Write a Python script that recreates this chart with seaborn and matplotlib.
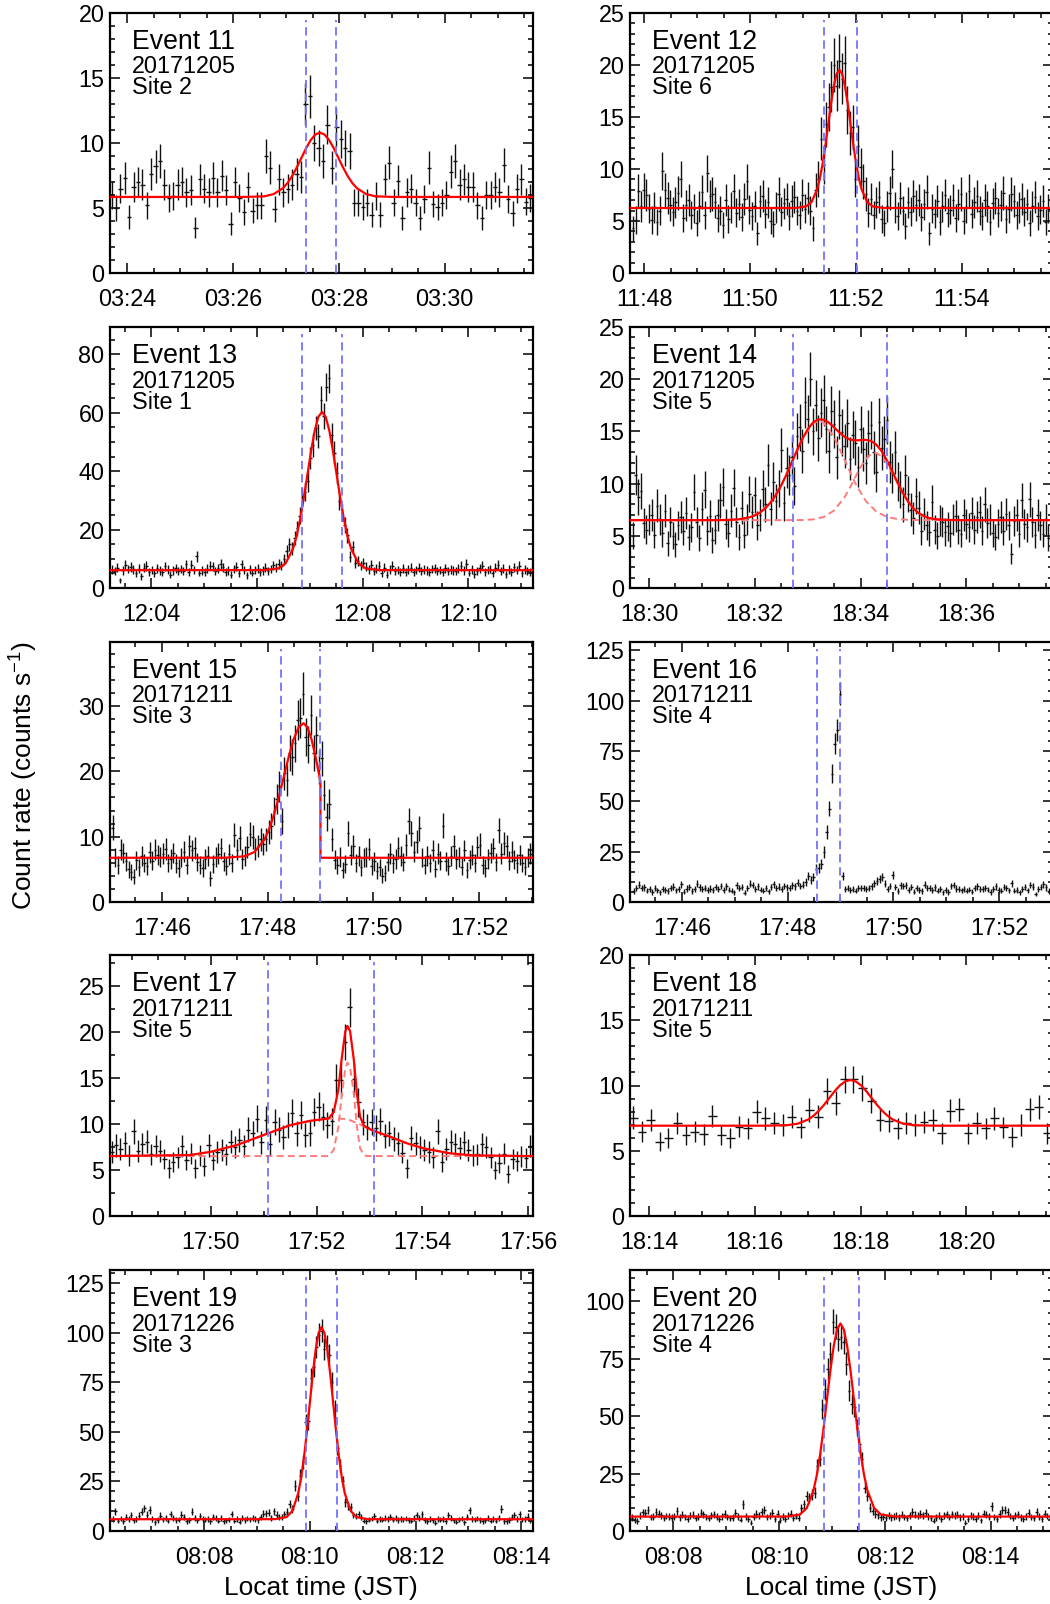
import numpy as np
import matplotlib
matplotlib.use("Agg")
import matplotlib.pyplot as plt
import seaborn as sns
from matplotlib.ticker import MultipleLocator, FuncFormatter

# ---------------- data (times in minutes of day, JST) ----------------
event_names = ["Event 11", "Event 12", "Event 13", "Event 14", "Event 15",
               "Event 16", "Event 17", "Event 18", "Event 19", "Event 20"]
event_dates = ["20171205", "20171205", "20171205", "20171205", "20171211",
               "20171211", "20171211", "20171211", "20171226", "20171226"]
event_sites = ["Site 2", "Site 6", "Site 1", "Site 5", "Site 3",
               "Site 4", "Site 5", "Site 5", "Site 3", "Site 4"]
bin_start = [203.70, 707.79, 723.26, 1109.70, 1065.07,
             1065.09, 1068.12, 1093.70, 486.27, 487.22]
bin_seconds = [5, 3, 3, 3, 3, 3, 5, 10, 3, 3]

rate_e11 = [6.0, 5.0, 6.5, 7.3, 4.3, 6.6, 7.0, 6.8, 5.2, 7.6,
            8.2, 8.6, 6.8, 5.8, 5.9, 6.8, 7.0, 6.2, 6.4, 3.5,
            7.2, 6.5, 6.2, 7.3, 6.2, 7.5, 6.4, 3.8, 7.0, 5.8,
            4.7, 6.6, 4.8, 5.2, 5.2, 9.0, 8.1, 4.9, 7.2, 6.2,
            6.5, 6.8, 7.6, 7.4, 13.0, 13.6, 10.0, 9.6, 8.6, 11.4,
            8.1, 11.2, 10.3, 9.6, 9.4, 5.4, 5.4, 5.1, 5.4, 4.5,
            5.9, 4.5, 7.2, 8.5, 5.4, 7.1, 4.2, 6.2, 6.5, 5.4,
            4.2, 5.7, 8.1, 5.3, 5.1, 5.4, 6.0, 7.8, 8.6, 6.8,
            7.2, 6.6, 6.6, 5.2, 4.2, 6.0, 6.0, 6.6, 6.2, 8.3,
            5.7, 4.6, 6.5, 7.2, 5.5, 5.8]
rate_e12 = [4.3, 5.1, 7.9, 6.4, 8.0, 7.5, 6.2, 5.1, 6.3, 4.9,
            6.0, 9.8, 8.0, 7.2, 6.5, 5.9, 6.8, 7.7, 9.0, 5.3,
            6.5, 7.0, 5.6, 6.2, 4.8, 6.4, 7.8, 5.6, 9.6, 7.4,
            7.6, 6.8, 5.3, 6.0, 4.6, 7.0, 5.2, 6.3, 7.9, 5.8,
            6.6, 5.4, 7.1, 8.8, 6.1, 5.5, 6.4, 3.8, 6.9, 7.4,
            5.7, 6.8, 5.0, 4.7, 6.3, 7.6, 5.9, 6.7, 7.1, 5.5,
            6.9, 7.3, 6.0, 5.6, 7.5, 6.2, 7.2, 6.0, 4.3, 8.0,
            9.0, 12.9, 10.4, 14.3, 16.0, 17.9, 20.0, 18.0, 20.4, 18.7,
            20.2, 15.7, 13.5, 14.0, 9.0, 12.2, 10.2, 8.8, 7.6, 5.8,
            7.1, 5.6, 6.8, 7.3, 5.2, 4.8, 6.4, 7.7, 10.0, 6.3,
            5.5, 7.2, 6.0, 4.5, 6.8, 5.9, 7.4, 6.5, 7.0, 5.4,
            6.6, 7.8, 3.8, 6.2, 5.7, 6.9, 4.9, 6.4, 7.5, 5.8,
            6.1, 7.0, 5.3, 6.6, 7.6, 5.0, 6.3, 7.9, 5.7, 6.8,
            7.4, 6.0, 5.5, 7.0, 6.4, 4.9, 6.7, 7.2, 5.8, 6.5,
            7.7, 5.2, 6.2, 7.6, 6.9, 5.6, 6.3, 7.1, 5.9, 6.6,
            4.8, 6.4, 7.3, 5.5, 6.1, 6.9, 4.9, 6.2, 5.3, 6.0]
rate_e13 = [6.3, 5.8, 7.0, 2.6, 6.0, 7.9, 6.5, 7.2, 6.4, 5.2,
            6.6, 4.0, 6.9, 7.5, 5.6, 6.2, 5.1, 6.8, 6.0, 5.5,
            7.4, 6.3, 4.5, 6.0, 6.7, 5.8, 6.5, 5.9, 8.1, 5.6,
            8.0, 6.2, 10.8, 5.3, 6.0, 5.5, 6.6, 7.7, 7.4, 5.9,
            6.8, 8.3, 7.1, 5.4, 6.0, 4.6, 6.5, 7.3, 5.2, 8.1,
            6.1, 4.4, 6.4, 5.3, 6.2, 6.6, 5.4, 6.0, 6.9, 5.7,
            6.5, 7.8, 6.9, 8.3, 7.6, 9.8, 12.8, 15.0, 13.5, 17.2,
            20.5, 24.8, 31.3, 33.0, 36.5, 44.5, 49.0, 54.8, 52.0, 64.5,
            58.8, 69.0, 71.8, 52.5, 46.3, 39.4, 29.9, 25.8, 21.6, 18.0,
            10.7, 14.0, 8.5, 9.2, 7.8, 8.5, 7.3, 6.4, 7.9, 5.8,
            6.6, 7.5, 5.2, 6.9, 4.6, 6.3, 7.7, 5.9, 6.1, 5.4,
            6.8, 5.6, 6.4, 7.0, 5.5, 6.2, 6.9, 5.7, 6.3, 6.0,
            5.6, 6.5, 6.8, 5.9, 6.1, 5.4, 6.7, 5.8, 6.3, 6.0,
            5.7, 6.6, 7.5, 6.0, 8.2, 5.3, 6.4, 4.8, 5.9, 6.8,
            7.7, 5.6, 6.2, 6.5, 5.1, 6.9, 7.9, 5.7, 6.6, 4.7,
            6.3, 5.5, 7.1, 6.2, 7.6, 5.0, 6.4, 5.8, 5.6, 6.1]
rate_e14 = [5.0, 10.8, 8.7, 9.3, 6.2, 5.6, 6.6, 7.0, 5.1, 7.9,
            6.6, 5.3, 7.4, 4.3, 6.3, 5.0, 4.2, 6.0, 6.8, 5.5,
            7.2, 4.9, 5.8, 9.2, 6.3, 4.8, 7.6, 9.4, 5.5, 6.9,
            4.6, 5.6, 7.0, 8.4, 9.7, 6.1, 5.3, 7.4, 9.6, 6.3,
            4.9, 7.7, 5.1, 6.6, 9.0, 7.3, 8.9, 6.0, 7.0, 9.5,
            8.0, 11.8, 7.6, 10.2, 8.3, 9.5, 13.2, 8.1, 11.5, 10.8,
            12.5, 9.8, 14.6, 15.4, 13.1, 17.8, 16.2, 20.0, 15.0, 17.5,
            14.4, 16.8, 18.0, 15.2, 13.1, 17.0, 15.7, 12.5, 16.6, 14.9,
            13.6, 15.8, 12.4, 14.7, 13.9, 11.6, 15.2, 13.3, 12.0, 14.8,
            15.6, 13.0, 11.1, 15.9, 13.4, 14.3, 16.1, 12.1, 11.0, 13.0,
            10.2, 9.4, 8.0, 10.8, 9.0, 7.5, 6.7, 8.8, 7.7, 5.5,
            7.1, 6.0, 5.4, 8.2, 5.6, 5.0, 6.5, 6.3, 5.4, 5.9,
            5.3, 6.6, 6.9, 5.6, 5.2, 7.0, 6.1, 5.8, 7.2, 5.6,
            6.8, 7.3, 5.5, 8.0, 6.2, 6.6, 5.3, 4.9, 6.1, 6.8,
            5.5, 7.1, 6.0, 3.3, 6.4, 7.0, 5.2, 8.4, 6.1, 5.8,
            8.5, 6.3, 5.1, 7.0, 6.0, 5.2, 6.6, 4.8, 5.0, 5.9]
rate_e15 = [11.4, 6.8, 5.6, 8.0, 7.5, 6.2, 5.0, 4.6, 3.9, 6.4,
            5.3, 7.1, 6.0, 5.5, 7.6, 6.3, 8.0, 7.2, 6.9, 7.4,
            8.1, 6.0, 6.6, 7.5, 5.9, 5.2, 6.8, 7.7, 5.6, 8.6,
            7.9, 8.3, 6.1, 5.7, 5.2, 6.6, 7.0, 3.6, 5.8, 6.9,
            7.4, 8.2, 6.2, 5.5, 7.3, 6.0, 10.3, 8.0, 9.8, 6.6,
            7.1, 8.4, 10.4, 9.9, 8.1, 8.6, 9.6, 8.9, 9.6, 10.7,
            11.6, 13.9, 15.7, 17.7, 12.4, 19.7, 18.7, 22.8, 22.2, 24.3,
            27.9, 28.1, 31.9, 25.3, 24.1, 28.6, 22.8, 25.6, 20.7, 22.0,
            16.4, 13.0, 15.0, 9.6, 6.5, 5.6, 6.9, 4.9, 5.8, 10.5,
            7.2, 8.6, 6.0, 7.0, 5.3, 6.8, 6.9, 8.1, 5.5, 6.2,
            4.8, 5.3, 4.0, 4.5, 6.1, 7.4, 5.9, 6.6, 8.3, 7.0,
            6.1, 8.7, 12.4, 10.5, 7.7, 9.2, 11.3, 6.8, 5.6, 7.0,
            6.0, 7.9, 5.1, 7.4, 6.3, 11.7, 6.2, 5.5, 7.1, 8.6,
            6.6, 6.9, 5.4, 7.9, 4.9, 6.5, 7.2, 6.0, 8.4, 8.8,
            5.6, 5.2, 6.6, 7.5, 8.2, 6.1, 11.0, 7.4, 9.0, 8.5,
            6.3, 7.7, 6.5, 5.9, 7.2, 6.0, 5.4, 6.8, 7.4, 6.6]
rate_e16 = [5.5, 6.8, 8.6, 6.9, 7.2, 5.6, 6.6, 5.0, 6.9, 5.8,
            4.8, 6.3, 6.0, 5.4, 6.9, 7.6, 5.8, 6.3, 8.9, 5.2,
            6.7, 7.4, 5.5, 6.4, 9.0, 7.2, 6.6, 6.8, 6.1, 6.7,
            5.9, 7.3, 6.5, 8.0, 6.1, 7.7, 6.2, 5.6, 4.8, 8.2,
            7.0, 7.3, 4.6, 6.9, 9.0, 8.4, 6.6, 7.8, 6.2, 5.7,
            6.8, 5.3, 7.4, 8.8, 7.0, 7.6, 6.4, 8.0, 7.2, 6.8,
            8.2, 7.7, 9.5, 8.0, 8.5, 10.0, 12.8, 11.0, 12.5, 16.6,
            17.0, 19.0, 24.8, 34.8, 46.4, 63.8, 78.7, 85.4, 103.5, 13.0,
            6.6, 6.9, 6.0, 6.4, 5.7, 6.8, 7.0, 6.8, 6.5, 7.1,
            7.8, 9.3, 10.5, 11.6, 12.4, 9.0, 6.3, 8.0, 13.3, 7.5,
            5.4, 8.2, 7.9, 8.3, 6.1, 7.5, 5.2, 6.8, 6.0, 5.5,
            8.6, 7.0, 6.9, 5.9, 7.2, 5.6, 6.5, 4.8, 6.1, 5.0,
            7.9, 8.4, 6.7, 6.4, 5.8, 6.3, 5.6, 6.2, 5.1, 6.9,
            7.8, 6.4, 6.3, 7.0, 6.2, 5.0, 6.6, 7.8, 5.9, 5.6,
            7.4, 6.9, 5.8, 9.3, 5.7, 6.0, 4.9, 6.3, 7.5, 5.8,
            8.4, 7.6, 3.9, 6.5, 7.4, 8.9, 7.2, 5.4, 6.1, 5.2]
rate_e17 = [7.0, 7.7, 7.3, 7.9, 6.6, 9.2, 7.1, 7.8, 8.1, 6.7,
            7.6, 7.1, 6.2, 5.2, 5.9, 6.4, 7.6, 6.1, 6.8, 5.2,
            6.6, 5.4, 7.7, 6.1, 7.0, 7.2, 6.7, 8.1, 7.5, 8.3,
            7.6, 9.4, 9.0, 10.6, 8.0, 10.5, 7.8, 10.2, 9.4, 8.6,
            9.9, 11.2, 9.0, 11.0, 8.8, 9.0, 11.3, 11.9, 10.8, 9.9,
            10.3, 14.8, 14.8, 18.9, 22.7, 14.9, 12.4, 10.2, 9.7, 10.2,
            9.6, 10.3, 8.7, 9.0, 8.4, 7.9, 6.9, 5.2, 8.5, 7.9,
            7.5, 7.2, 7.0, 6.4, 9.2, 5.9, 7.3, 8.1, 7.8, 7.4,
            8.0, 7.2, 6.6, 6.7, 7.8, 7.5, 6.4, 5.0, 5.8, 6.8,
            4.6, 6.2, 6.0, 6.5, 6.3, 7.6]
rate_e18 = [7.53, 6.46, 7.36, 5.70, 5.95, 7.15, 6.21, 6.46, 6.26, 7.66,
            6.21, 6.00, 6.85, 6.72, 7.99, 7.48, 7.10, 6.97, 7.61, 6.79,
            8.12, 7.61, 9.58, 8.68, 10.47, 10.47, 9.78, 8.84, 7.36, 7.28,
            6.72, 7.10, 6.97, 7.23, 7.36, 6.33, 8.07, 8.17, 6.33, 7.15,
            6.72, 7.48, 6.79, 6.03, 6.97, 8.17, 8.38, 6.33]
rate_e19 = [6.0, 9.9, 5.1, 6.3, 5.0, 7.0, 6.2, 8.0, 5.4, 6.0,
            7.8, 9.8, 11.4, 8.2, 10.6, 6.0, 4.4, 5.6, 7.8, 5.9,
            6.8, 5.2, 8.5, 6.4, 5.5, 5.8, 8.3, 6.9, 4.9, 5.6,
            9.8, 6.7, 5.4, 7.5, 6.1, 5.7, 6.2, 4.8, 7.0, 6.4,
            5.2, 6.5, 4.9, 5.3, 5.7, 8.6, 5.1, 6.0, 4.6, 6.8,
            5.5, 6.3, 5.9, 6.4, 6.1, 5.3, 7.0, 8.7, 8.9, 9.2,
            6.5, 9.9, 8.2, 7.0, 7.2, 8.5, 9.8, 13.6, 11.0, 22.9,
            17.5, 28.0, 34.8, 55.0, 55.5, 77.0, 83.0, 93.0, 99.0, 101.0,
            92.0, 93.5, 89.0, 75.4, 61.8, 42.0, 33.0, 25.0, 14.4, 12.5,
            11.9, 8.0, 7.5, 8.6, 6.9, 5.2, 4.9, 5.8, 6.3, 7.4,
            5.1, 6.0, 5.7, 6.7, 6.2, 7.0, 5.8, 6.5, 5.6, 6.1,
            5.9, 6.3, 5.5, 5.2, 6.4, 7.9, 6.8, 8.4, 5.6, 4.9,
            6.0, 5.3, 4.2, 6.1, 5.7, 6.2, 5.0, 7.9, 6.5, 5.4,
            4.6, 5.8, 6.3, 4.5, 7.2, 10.4, 6.1, 5.7, 6.3, 5.6,
            4.9, 5.4, 6.6, 5.2, 6.2, 5.1, 6.4, 11.0, 5.0, 4.8,
            5.6, 6.9, 8.0, 6.1, 8.4, 5.9, 6.2, 7.3, 5.3, 5.8]
rate_e20 = [5.8, 4.9, 4.3, 6.6, 8.1, 7.9, 9.2, 6.0, 6.2, 8.4,
            7.6, 6.8, 5.7, 6.5, 6.2, 5.8, 6.3, 8.7, 5.9, 7.0,
            6.1, 5.4, 6.6, 7.0, 5.5, 6.2, 7.8, 7.3, 6.0, 5.7,
            6.9, 7.2, 6.3, 5.1, 6.4, 7.4, 6.1, 5.6, 5.8, 7.9,
            6.2, 5.0, 11.6, 6.4, 5.2, 3.5, 6.3, 7.4, 6.6, 8.2,
            9.0, 6.0, 6.7, 7.9, 5.3, 7.6, 4.8, 6.2, 5.4, 6.6,
            7.5, 5.6, 6.5, 5.8, 9.8, 11.6, 15.1, 14.3, 15.8, 16.6,
            28.4, 31.3, 53.1, 61.7, 70.5, 77.1, 91.0, 88.8, 83.7, 84.4,
            82.2, 72.8, 61.0, 55.3, 53.8, 45.0, 37.8, 31.3, 18.9, 15.1,
            10.2, 8.7, 7.4, 6.8, 5.9, 6.3, 5.5, 6.7, 5.9, 6.2,
            6.6, 5.8, 7.1, 6.0, 5.5, 6.9, 8.2, 7.1, 6.6, 7.4,
            6.9, 8.0, 6.4, 5.6, 4.5, 5.8, 6.6, 5.2, 6.8, 7.3,
            6.0, 7.2, 6.6, 7.1, 5.9, 6.4, 3.5, 5.3, 6.7, 6.2,
            5.1, 6.6, 4.6, 7.5, 7.0, 6.3, 10.7, 6.1, 5.2, 7.4,
            9.2, 9.0, 8.4, 6.5, 5.6, 6.8, 7.2, 5.9, 5.3, 6.4,
            7.8, 6.0, 5.5, 8.4, 6.2, 5.1, 7.6, 6.5, 5.8, 6.3]

# fitted model curves (time, rate)
fit_e11_t = [203.67, 206.24, 206.59, 206.765, 206.94, 207.0275, 207.115, 207.2025, 207.29,
             207.3775, 207.465, 207.5525, 207.64, 207.7275, 207.815, 207.9025, 207.99,
             208.0775, 208.165, 208.2525, 208.34, 208.515, 208.69, 209.04, 211.67]
fit_e11_r = [5.85, 5.85, 5.90, 6.07, 6.52, 6.92, 7.46, 8.12, 8.85, 9.59, 10.22, 10.65, 10.80,
             10.65, 10.22, 9.59, 8.85, 8.12, 7.46, 6.92, 6.52, 6.07, 5.90, 5.85, 5.85]
fit_e12_t = [707.73, 710.85, 711.06, 711.165, 711.27, 711.3225, 711.375, 711.4275, 711.48,
             711.5325, 711.585, 711.6375, 711.69, 711.7425, 711.795, 711.8475, 711.90,
             711.9525, 712.005, 712.0575, 712.11, 712.215, 712.32, 712.53, 715.73]
fit_e12_r = [6.25, 6.25, 6.40, 6.83, 8.05, 9.13, 10.57, 12.34, 14.32, 16.29, 17.99, 19.14, 19.55,
             19.14, 17.99, 16.29, 14.32, 12.34, 10.57, 9.13, 8.05, 6.83, 6.40, 6.25, 6.25]
fit_e13_t = [723.22, 726.13, 726.405, 726.5425, 726.68, 726.749, 726.8175, 726.886, 726.955,
             727.024, 727.0925, 727.161, 727.23, 727.299, 727.3675, 727.436, 727.505,
             727.574, 727.6425, 727.711, 727.78, 727.9175, 728.055, 728.33, 731.22]
fit_e13_r = [6.10, 6.12, 6.70, 8.48, 13.43, 17.82, 23.70, 30.91, 38.97, 47.01, 53.93, 58.63, 60.30,
             58.63, 53.93, 47.01, 38.97, 30.91, 23.70, 17.82, 13.43, 8.48, 6.70, 6.12, 6.10]
fit_e14_t = [1109.64, 1111.3, 1111.5, 1111.7, 1111.9, 1112.0, 1112.1, 1112.2, 1112.3, 1112.4,
             1112.5, 1112.6, 1112.7, 1112.8, 1112.9, 1113.0, 1113.1, 1113.2, 1113.3, 1113.4,
             1113.5, 1113.6, 1113.7, 1113.8, 1113.9, 1114.0, 1114.1, 1114.2, 1114.3, 1114.4,
             1114.5, 1114.6, 1114.7, 1114.8, 1114.9, 1115.0, 1115.1, 1115.2, 1115.3, 1115.4,
             1115.6, 1116.0, 1117.64]
fit_e14_r = [6.50, 6.50, 6.52, 6.58, 6.77, 6.95, 7.23, 7.64, 8.20, 8.92,
             9.82, 10.88, 12.03, 13.20, 14.28, 15.20, 15.84, 16.15, 16.13, 15.84,
             15.39, 14.89, 14.48, 14.22, 14.14, 14.16, 14.19, 14.08, 13.73, 13.10,
             12.22, 11.18, 10.11, 9.11, 8.28, 7.63, 7.17, 6.88, 6.70, 6.60,
             6.52, 6.50, 6.50]
comp1_e14_t = [1109.64, 1111.3, 1111.7, 1111.9, 1112.1, 1112.3, 1112.5, 1112.7, 1112.9, 1113.1,
               1113.21, 1113.3, 1113.5, 1113.7, 1113.9, 1114.1, 1114.3, 1114.5, 1114.7, 1114.9,
               1115.2, 1117.64]
comp1_e14_r = [6.50, 6.50, 6.58, 6.77, 7.23, 8.20, 9.82, 12.03, 14.27, 15.77,
               16.00, 15.84, 14.47, 12.26, 10.03, 8.33, 7.30, 6.80, 6.60, 6.53,
               6.50, 6.50]
comp2_e14_t = [1109.64, 1112.5, 1112.9, 1113.1, 1113.3, 1113.5, 1113.7, 1113.8, 1113.9, 1114.0,
               1114.1, 1114.2, 1114.27, 1114.3, 1114.4, 1114.5, 1114.6, 1114.7, 1114.8, 1114.9,
               1115.0, 1115.2, 1115.4, 1115.6, 1116.0, 1117.64]
comp2_e14_r = [6.50, 6.50, 6.51, 6.57, 6.79, 7.42, 8.72, 9.62, 10.61, 11.57,
               12.36, 12.85, 12.95, 12.93, 12.60, 11.92, 11.01, 10.01, 9.06, 8.25,
               7.62, 6.88, 6.60, 6.52, 6.50, 6.50]
fit_e15_t = [1065.02, 1067.20, 1067.57, 1067.755, 1067.94, 1068.0325, 1068.125, 1068.2175,
             1068.31, 1068.4025, 1068.495, 1068.5875, 1068.68, 1068.755, 1068.83, 1068.905,
             1068.98, 1069.0, 1069.0, 1073.02]
fit_e15_r = [6.77, 6.78, 7.00, 7.67, 9.56, 11.23, 13.46, 16.20, 19.26, 22.32, 24.95, 26.74,
             27.37, 26.74, 24.95, 22.32, 19.26, 18.43, 6.77, 6.77]
fit_e17_t = [1068.09, 1069.60, 1070.0, 1070.49, 1070.99, 1071.50, 1071.88, 1072.22, 1072.32,
             1072.41, 1072.47, 1072.54, 1072.58, 1072.63, 1072.70, 1072.76, 1072.82, 1072.89,
             1072.95, 1073.07, 1073.39, 1073.71, 1074.02, 1074.53, 1074.97, 1076.09]
fit_e17_r = [6.52, 6.63, 6.99, 7.72, 8.80, 9.89, 10.36, 10.60, 11.27,
             13.79, 17.03, 20.08, 20.68, 20.13, 17.06, 13.29, 10.80, 9.86,
             9.60, 9.28, 8.62, 7.90, 7.36, 6.81, 6.59, 6.52]
comp1_e17_r = [6.52, 6.63, 6.99, 7.72, 8.80, 9.89, 10.36, 10.60, 10.62,
               10.60, 10.58, 10.55, 10.50, 10.42, 10.25, 10.10, 9.96, 9.75,
               9.60, 9.28, 8.62, 7.90, 7.36, 6.81, 6.59, 6.52]
comp2_e17_r = [6.52, 6.52, 6.52, 6.52, 6.52, 6.52, 6.52, 6.52, 7.17,
               9.71, 12.97, 16.05, 16.70, 16.23, 13.33, 9.71, 7.36, 6.63,
               6.52, 6.52, 6.52, 6.52, 6.52, 6.52, 6.52, 6.52]
fit_e18_t = [1093.64, 1096.21, 1096.61, 1096.81, 1097.01, 1097.11, 1097.21, 1097.31, 1097.41,
             1097.51, 1097.61, 1097.71, 1097.81, 1097.91, 1098.01, 1098.11, 1098.21, 1098.31,
             1098.41, 1098.51, 1098.61, 1098.81, 1099.01, 1099.41, 1101.64]
fit_e18_r = [6.92, 6.92, 6.96, 7.07, 7.39, 7.68, 8.06, 8.52, 9.04, 9.56, 10.01, 10.31, 10.42,
             10.31, 10.01, 9.56, 9.04, 8.52, 8.06, 7.68, 7.39, 7.07, 6.96, 6.92, 6.92]
fit_e19_t = [486.22, 489.34, 489.56, 489.67, 489.78, 489.835, 489.89, 489.945, 490.0, 490.055,
             490.11, 490.165, 490.22, 490.275, 490.33, 490.385, 490.44, 490.495, 490.55,
             490.605, 490.66, 490.77, 490.88, 491.10, 494.22]
fit_e19_r = [5.93, 5.96, 7.01, 10.19, 19.05, 26.91, 37.43, 50.34, 64.76, 79.15, 91.53, 99.94,
             102.93, 99.94, 91.53, 79.15, 64.76, 50.34, 37.43, 26.91, 19.05, 10.19, 7.01, 5.96, 5.93]
fit_e20_t = [487.18, 490.14, 490.395, 490.5225, 490.65, 490.714, 490.7775, 490.841, 490.905,
             490.969, 491.0325, 491.096, 491.16, 491.224, 491.2875, 491.351, 491.415,
             491.479, 491.5425, 491.606, 491.67, 491.7975, 491.925, 492.18, 495.18]
fit_e20_r = [6.26, 6.29, 7.19, 9.95, 17.63, 24.43, 33.53, 44.72, 57.21, 69.66, 80.39, 87.67,
             90.26, 87.67, 80.39, 69.66, 57.21, 44.72, 33.53, 24.43, 17.63, 9.95, 7.19, 6.29, 6.26]

# event windows (blue dashed lines)
window_e11 = [207.37, 207.95]
window_e12 = [711.40, 712.03]
window_e13 = [726.86, 727.60]
window_e14 = [1112.72, 1114.50]
window_e15 = [1068.25, 1069.00]
window_e16 = [1068.566, 1068.987]
window_e17 = [1071.07, 1073.09]
window_e18 = []
window_e19 = [489.92, 490.51]
window_e20 = [490.85, 491.51]

x_limits = [(203.67, 211.67), (707.73, 715.73), (723.22, 731.22), (1109.64, 1117.64),
            (1065.02, 1073.02), (1065.02, 1073.02), (1068.09, 1076.09), (1093.64, 1101.64),
            (486.22, 494.22), (487.18, 495.18)]
y_tops = [20, 25, 89.4, 25, 39.8, 129.1, 28.4, 20, 131.7, 113.5]
y_major = [5, 5, 20, 5, 10, 25, 5, 5, 25, 25]
y_minor = [1, 1, 5, 1, 2, 5, 2.5, 1, 5, 5]

rates = [rate_e11, rate_e12, rate_e13, rate_e14, rate_e15,
         rate_e16, rate_e17, rate_e18, rate_e19, rate_e20]
fits = [(fit_e11_t, fit_e11_r), (fit_e12_t, fit_e12_r), (fit_e13_t, fit_e13_r),
        (fit_e14_t, fit_e14_r), (fit_e15_t, fit_e15_r), None,
        (fit_e17_t, fit_e17_r), (fit_e18_t, fit_e18_r), (fit_e19_t, fit_e19_r),
        (fit_e20_t, fit_e20_r)]
components = [[], [], [], [(comp1_e14_t, comp1_e14_r), (comp2_e14_t, comp2_e14_r)], [], [],
              [(fit_e17_t, comp1_e17_r), (fit_e17_t, comp2_e17_r)], [], [], []]
windows = [window_e11, window_e12, window_e13, window_e14, window_e15,
           window_e16, window_e17, window_e18, window_e19, window_e20]

# ---------------- style ----------------
sns.set_theme(style="ticks")
plt.rcParams["font.family"] = ["Liberation Sans", "DejaVu Sans"]
plt.rcParams["mathtext.fontset"] = "custom"
plt.rcParams["mathtext.rm"] = "Liberation Sans"
plt.rcParams["mathtext.it"] = "Liberation Sans:italic"
plt.rcParams["mathtext.bf"] = "Liberation Sans:bold"
plt.rcParams["lines.scale_dashes"] = False

W, H = 1050, 1604
fig = plt.figure(figsize=(W / 100, H / 100), dpi=100)
fig.patch.set_facecolor("white")

col_left = [110, 630]
ax_w = 423
row_top = [13, 327, 642, 955, 1270]
row_bot = [273, 588, 902, 1216, 1531]


def hhmm(v, pos=None):
    m = int(round(v))
    return f"{(m // 60) % 24:02d}:{m % 60:02d}"


for k in range(10):
    r, c = k // 2, k % 2
    left = col_left[c] / W
    bottom = 1 - row_bot[r] / H
    height = (row_bot[r] - row_top[r]) / H
    ax = fig.add_axes([left, bottom, ax_w / W, height])
    ax.set_facecolor("white")

    dt_min = bin_seconds[k] / 60.0
    vals = np.asarray(rates[k], dtype=float)
    t = bin_start[k] + dt_min * np.arange(len(vals))
    err = np.sqrt(vals / bin_seconds[k])  # Poisson error of the count rate
    ax.errorbar(t, vals, xerr=dt_min / 2, yerr=err, fmt="none", ecolor="#111111",
                elinewidth=1.0, capsize=0, zorder=2)

    for (ct, cr) in components[k]:
        sns.lineplot(x=ct, y=cr, ax=ax, color="#ff7b7b", linewidth=1.4,
                     linestyle=(0, (5, 3)), sort=False, estimator=None, zorder=3)
    if fits[k] is not None:
        sns.lineplot(x=fits[k][0], y=fits[k][1], ax=ax, color="#ff0000", linewidth=1.6,
                     sort=False, estimator=None, zorder=4)
    for xv in windows[k]:
        ax.axvline(xv, ymin=0, ymax=0.972, color="#7474ff", linewidth=1.3,
                   linestyle=(0, (6, 3.5)), zorder=5)

    ax.set_xlim(*x_limits[k])
    ax.set_ylim(0, y_tops[k])
    ax.xaxis.set_major_locator(MultipleLocator(2))
    ax.xaxis.set_minor_locator(MultipleLocator(0.5))
    ax.xaxis.set_major_formatter(FuncFormatter(hhmm))
    ax.yaxis.set_major_locator(MultipleLocator(y_major[k]))
    ax.yaxis.set_minor_locator(MultipleLocator(y_minor[k]))
    ax.tick_params(which="both", direction="in", top=True, right=True,
                   color="black", width=1.1, labelsize=16.8, labelcolor="black")
    ax.tick_params(which="major", length=7.5)
    ax.tick_params(which="minor", length=3.8)
    ax.tick_params(axis="x", pad=11)
    ax.tick_params(axis="y", pad=4)
    for sp in ax.spines.values():
        sp.set_visible(True)
        sp.set_linewidth(1.6)
        sp.set_color("black")
    ax.set_xlabel("")
    ax.set_ylabel("")
    ax.grid(False)

    ax.text(0.052, 0.862, event_names[k], transform=ax.transAxes, fontsize=19.2,
            va="baseline", ha="left", color="black")
    ax.text(0.052, 0.768, event_dates[k], transform=ax.transAxes, fontsize=16.8,
            va="baseline", ha="left", color="black")
    ax.text(0.052, 0.687, event_sites[k], transform=ax.transAxes, fontsize=16.8,
            va="baseline", ha="left", color="black")

fig.text(24 / W, 1 - 776 / H, "Count rate (counts s$^{\\mathregular{-1}}$)", rotation=90,
         ha="center", va="center", fontsize=19, color="black")
fig.text(321 / W, 1 - 1588 / H, "Locat time (JST)", ha="center", va="center",
         fontsize=19, color="black")
fig.text(841 / W, 1 - 1588 / H, "Local time (JST)", ha="center", va="center",
         fontsize=19, color="black")

fig.savefig("out.png", dpi=100, facecolor="white")
